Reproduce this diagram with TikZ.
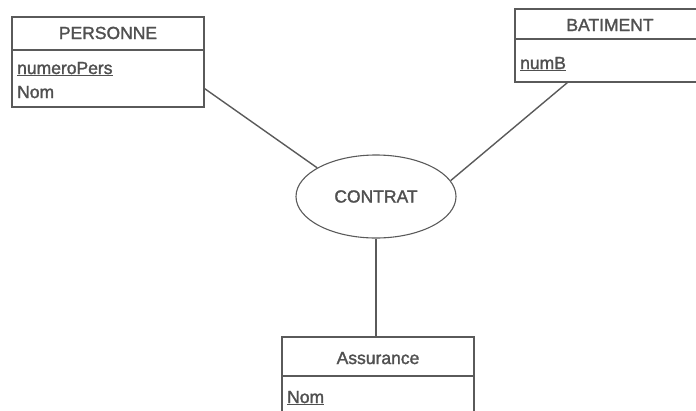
\documentclass[tikz,border=0pt]{standalone}
\usepackage{fontspec}
\setmainfont{Liberation Sans}
\newfontfamily\uifont{Liberation Sans}[FakeBold=1.6]
\usetikzlibrary{shapes.geometric,calc}
\definecolor{ink}{HTML}{5A5A5A}
\definecolor{txt}{HTML}{505050}
\tikzset{
  entbox/.style={draw=ink, line width=1.1pt, rectangle, inner sep=0pt},
  title/.style={anchor=base, inner sep=0pt, text=txt, font=\uifont\fontsize{17.5}{20}\selectfont},
  attr/.style={anchor=base west, inner sep=0pt, text=txt, font=\uifont\fontsize{17.5}{20}\selectfont},
  rel/.style={draw=ink, line width=1.1pt, ellipse, inner sep=0pt, minimum width=160pt, minimum height=83pt, text=txt, font=\uifont\fontsize{17.5}{20}\selectfont},
  link/.style={draw=ink, line width=1.4pt}
}
\begin{document}
\begin{tikzpicture}[x=1pt,y=-1pt]
\clip (0,0) rectangle (696,410);
\useasboundingbox (0,0) rectangle (696,410);
% PERSONNE
\node[entbox, minimum width=192pt, minimum height=90pt] (pers) at (108,62) {};
\draw[draw=ink, line width=1.1pt] (pers.west |- 0,50) -- (pers.east |- 0,50);
\node[title] (perst) at (108,39) {PERSONNE};
\node[attr] (persa1) at (17,74) {\underline{numeroPers}};
\node[attr] (persa2) at (17,98) {Nom};
% BATIMENT
\node[entbox, minimum width=190pt, minimum height=73pt] (bat) at (610,45.5) {};
\draw[draw=ink, line width=1.1pt] (bat.west |- 0,39) -- (bat.east |- 0,39);
\node[title] (batt) at (610,31) {BATIMENT};
\node[attr] (bata1) at (520,69) {\underline{numB}};
% Assurance
\node[entbox, minimum width=192pt, minimum height=100pt] (ass) at (378,387) {};
\draw[draw=ink, line width=1.1pt] (ass.west |- 0,376) -- (ass.east |- 0,376);
\node[title] (asst) at (378,364) {Assurance};
\node[attr] (assa1) at (287,403) {\underline{Nom}};
% CONTRAT
\node[rel] (contrat) at (376,196.5) {CONTRAT};
% links
\draw[link] ($(pers.south east)+(0,-19)$) -- (contrat.154);
\draw[link] ($(bat.south west)+(53,0)$) -- (contrat.12);
\draw[link] (contrat.south) -- (ass.north -| contrat.south);
\end{tikzpicture}
\end{document}
